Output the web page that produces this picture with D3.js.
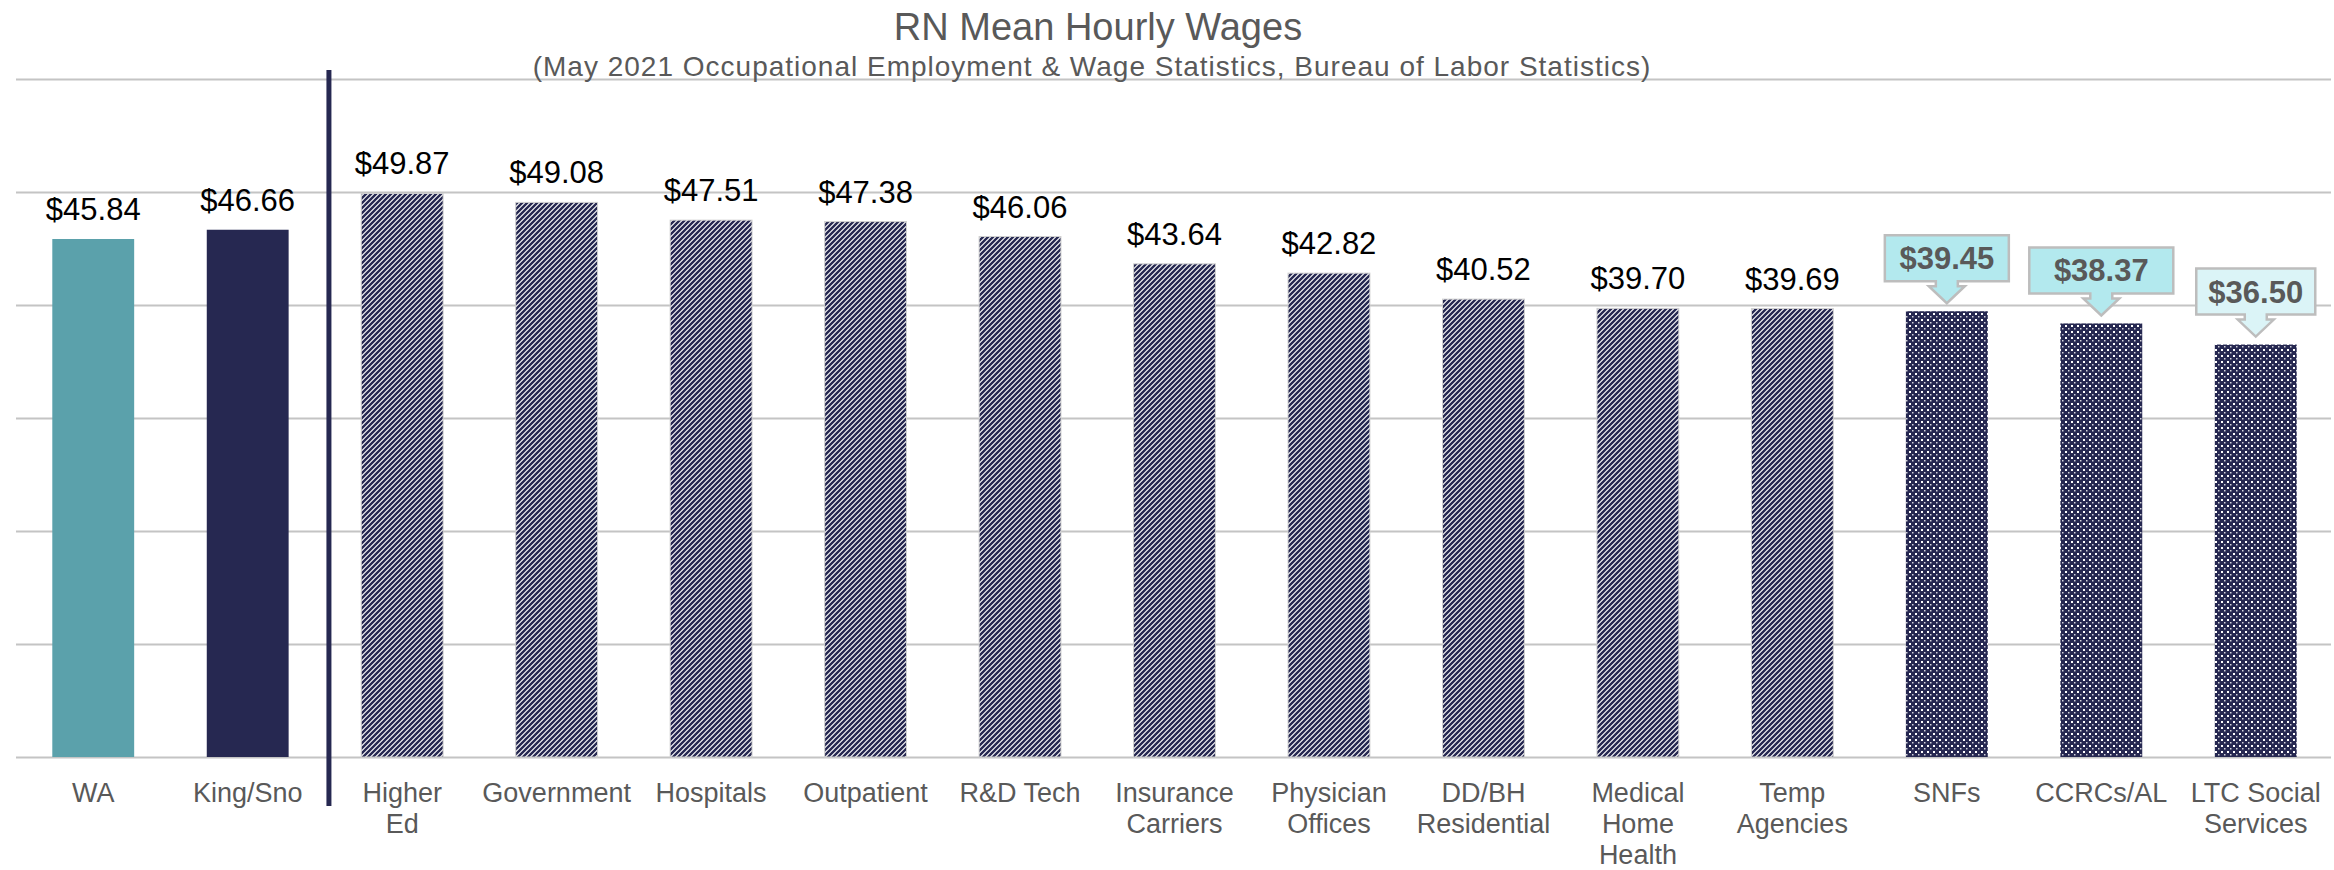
<!DOCTYPE html>
<html>
<head>
<meta charset="utf-8">
<script src="https://cdn.jsdelivr.net/npm/d3@7"></script>
<style>
  body { margin: 0; background: #fff; }
  svg { display: block; }
</style>
</head>
<body>
<div id="chart"></div>
<script>
var title = "RN Mean Hourly Wages";
var subtitle = "(May 2021 Occupational Employment & Wage Statistics, Bureau of Labor Statistics)";

// "\n" marks where the category label wraps
var categories = ["WA", "King/Sno", "Higher\nEd", "Government", "Hospitals", "Outpatient", "R&D Tech",
    "Insurance\nCarriers", "Physician\nOffices", "DD/BH\nResidential", "Medical\nHome\nHealth",
    "Temp\nAgencies", "SNFs", "CCRCs/AL", "LTC Social\nServices"];
var wages = [45.84, 46.66, 49.87, 49.08, 47.51, 47.38, 46.06, 43.64, 42.82, 40.52, 39.70, 39.69, 39.45, 38.37, 36.50];
var groups = ["state", "region", "industry", "industry", "industry", "industry", "industry",
    "industry", "industry", "industry", "industry", "industry", "ltc", "ltc", "ltc"];
var yTicks = [0, 10, 20, 30, 40, 50, 60];

function init() {
    var w = 2334;
    var h = 870;
    var navy = "#262851";
    var teal = "#5BA1AB";
    var gray = "#595959";

    var data = categories.map(function (c, i) {
        return { cat: c, value: wages[i], group: groups[i] };
    });

    var svg = d3.select("#chart")
        .append("svg")
        .attr("width", w)
        .attr("height", h);

    var defs = svg.append("defs");

    // upward diagonal hatch for the industry bars
    var stripes = defs.append("pattern")
        .attr("id", "stripes")
        .attr("patternUnits", "userSpaceOnUse")
        .attr("width", 5)
        .attr("height", 5);
    stripes.append("rect").attr("width", 5).attr("height", 5).attr("fill", "#fff");
    stripes.append("path")
        .attr("d", "M-1,1 L1,-1 M0,5 L5,0 M4,6 L6,4")
        .attr("stroke", navy)
        .attr("stroke-width", 2.4);

    // white dot grid on navy for the long-term care bars
    var dots = defs.append("pattern")
        .attr("id", "dots")
        .attr("patternUnits", "userSpaceOnUse")
        .attr("width", 6)
        .attr("height", 6);
    dots.append("rect").attr("width", 6).attr("height", 6).attr("fill", navy);
    dots.append("rect").attr("x", 1).attr("y", 1).attr("width", 2).attr("height", 2).attr("fill", "#fff");
    dots.append("rect").attr("x", 4).attr("y", 4).attr("width", 1.5).attr("height", 1.5).attr("fill", "#fff").attr("opacity", 0.8);

    var blur = defs.append("filter").attr("id", "shadow")
        .attr("x", "-200%").attr("y", "-5%").attr("width", "500%").attr("height", "110%");
    blur.append("feGaussianBlur").attr("stdDeviation", 1.6);

    var xScale = d3.scaleBand()
        .domain(categories)
        .range([16, 2333])
        .paddingInner(0.47)
        .paddingOuter(0.235);

    var yScale = d3.scaleLinear()
        .domain([0, 60])
        .range([757, 79]);

    // gridlines
    var yAxis = d3.axisLeft(yScale)
        .tickValues(yTicks)
        .tickSize(-(2331 - 16))
        .tickFormat("");

    var grid = svg.append("g")
        .attr("transform", "translate(16, 0)")
        .call(yAxis);
    grid.select(".domain").remove();
    grid.selectAll("line")
        .attr("stroke", "#C4C4C4")
        .attr("stroke-width", 2.2);

    // title and subtitle
    svg.append("text")
        .attr("x", 1098)
        .attr("y", 40)
        .attr("text-anchor", "middle")
        .attr("font-family", "Liberation Sans, Arial, sans-serif")
        .attr("font-size", 38)
        .attr("fill", gray)
        .text(title);

    svg.append("text")
        .attr("x", 1092)
        .attr("y", 76)
        .attr("text-anchor", "middle")
        .attr("font-family", "Liberation Sans, Arial, sans-serif")
        .attr("font-size", 28)
        .attr("letter-spacing", 1)
        .attr("fill", gray)
        .text(subtitle);

    function barFill(d) {
        if (d.group === "state") return teal;
        if (d.group === "region") return navy;
        if (d.group === "industry") return "url(#stripes)";
        return "url(#dots)";
    }

    svg.selectAll("rect.bar")
        .data(data)
        .enter()
        .append("rect")
        .attr("class", "bar")
        .attr("x", d => xScale(d.cat))
        .attr("y", d => yScale(d.value))
        .attr("width", xScale.bandwidth())
        .attr("height", d => yScale(0) - yScale(d.value))
        .attr("fill", barFill)
        .attr("stroke", d => d.group === "industry" ? "#D0D0D0" : "none")
        .attr("stroke-width", 1);

    var fmt = d3.format("$.2f");

    // plain value labels
    svg.selectAll("text.value")
        .data(data.filter(d => d.group !== "ltc"))
        .enter()
        .append("text")
        .attr("class", "value")
        .attr("x", d => xScale(d.cat) + xScale.bandwidth() / 2)
        .attr("y", d => yScale(d.value) - 19)
        .attr("text-anchor", "middle")
        .attr("font-family", "Liberation Sans, Arial, sans-serif")
        .attr("font-size", 31)
        .attr("fill", "#000")
        .text(d => fmt(d.value));

    // down-arrow callouts for the long-term care bars
    var calloutWidth = { "SNFs": 124, "CCRCs/AL": 144, "LTC Social\nServices": 119 };
    var calloutFill = { "SNFs": "#B3E9EE", "CCRCs/AL": "#B3E9EE", "LTC Social\nServices": "#DBF4F7" };

    var callouts = svg.selectAll("g.callout")
        .data(data.filter(d => d.group === "ltc"))
        .enter()
        .append("g")
        .attr("class", "callout");

    callouts.append("path")
        .attr("d", function (d) {
            var cx = xScale(d.cat) + xScale.bandwidth() / 2;
            var tip = yScale(d.value) - 8;
            var bottom = tip - 22;
            var top = bottom - 46;
            var half = calloutWidth[d.cat] / 2;
            var p = d3.path();
            p.moveTo(cx - half, top);
            p.lineTo(cx + half, top);
            p.lineTo(cx + half, bottom);
            p.lineTo(cx + 11, bottom);
            p.lineTo(cx + 11, bottom + 5);
            p.lineTo(cx + 18, bottom + 5);
            p.lineTo(cx, tip);
            p.lineTo(cx - 18, bottom + 5);
            p.lineTo(cx - 11, bottom + 5);
            p.lineTo(cx - 11, bottom);
            p.lineTo(cx - half, bottom);
            p.closePath();
            return p.toString();
        })
        .attr("fill", d => calloutFill[d.cat])
        .attr("stroke", "#BDBDBD")
        .attr("stroke-width", 2.5)
        .attr("stroke-linejoin", "miter");

    callouts.append("text")
        .attr("x", d => xScale(d.cat) + xScale.bandwidth() / 2)
        .attr("y", d => yScale(d.value) - 8 - 22 - 46 + 34)
        .attr("text-anchor", "middle")
        .attr("font-family", "Liberation Sans, Arial, sans-serif")
        .attr("font-size", 31)
        .attr("font-weight", "bold")
        .attr("fill", gray)
        .text(d => fmt(d.value));

    // category labels, wrapped on "\n"
    var labels = svg.selectAll("text.cat")
        .data(data)
        .enter()
        .append("text")
        .attr("class", "cat")
        .attr("text-anchor", "middle")
        .attr("font-family", "Liberation Sans, Arial, sans-serif")
        .attr("font-size", 27)
        .attr("fill", gray);

    labels.each(function (d) {
        var t = d3.select(this);
        var cx = xScale(d.cat) + xScale.bandwidth() / 2;
        d.cat.split("\n").forEach(function (line, i) {
            t.append("tspan")
                .attr("x", cx)
                .attr("y", yScale(0) + 45 + i * 31)
                .text(line);
        });
    });

    // divider between the regional and industry bars
    var divX = (xScale(categories[1]) + xScale.bandwidth() + xScale(categories[2])) / 2 + 4;
    svg.append("line")
        .attr("x1", divX + 3).attr("x2", divX + 3)
        .attr("y1", 72).attr("y2", 808)
        .attr("stroke", "#8a8a8a")
        .attr("stroke-opacity", 0.6)
        .attr("stroke-width", 4)
        .attr("filter", "url(#shadow)");
    svg.append("line")
        .attr("x1", divX).attr("x2", divX)
        .attr("y1", 70).attr("y2", 806)
        .attr("stroke", navy)
        .attr("stroke-width", 5);
}

window.onload = init;
</script>
</body>
</html>
